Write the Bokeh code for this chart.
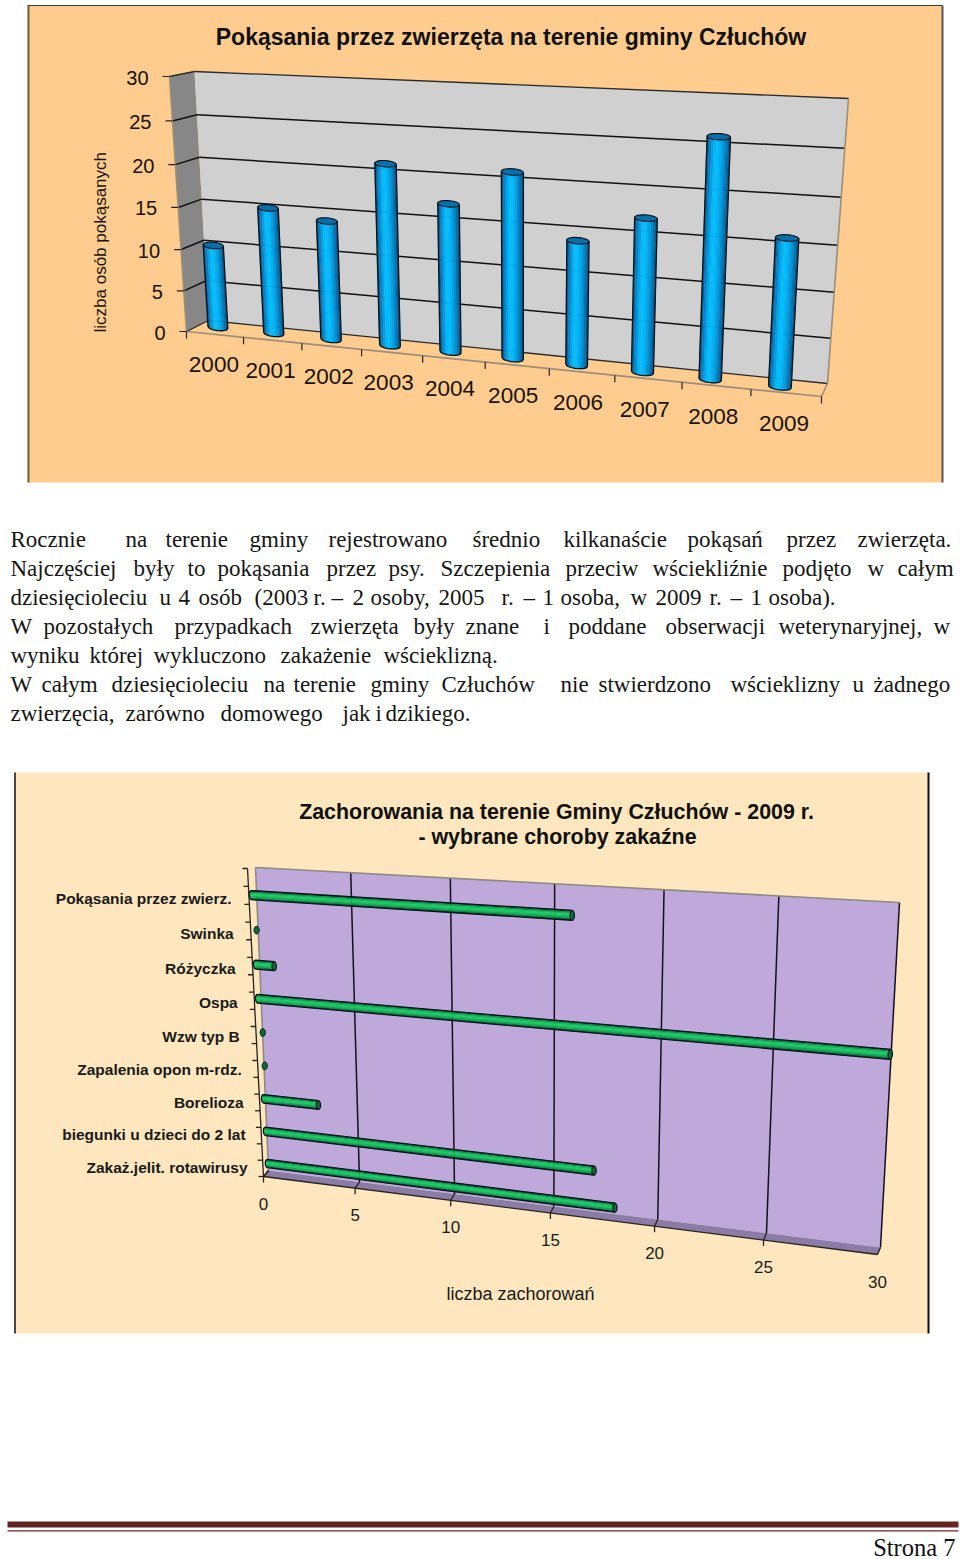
import math
import numpy as np
from bokeh.plotting import figure
from bokeh.embed import file_html
from bokeh.resources import INLINE
from bokeh.core.properties import value

# ---- data ----
years = ["2000","2001","2002","2003","2004","2005","2006","2007","2008","2009"]
bites = [10,15,14,21,17,21,14,17,26,16]
bite_ticks = [0,5,10,15,20,25,30]
title1 = "Pokąsania przez zwierzęta na terenie gminy Człuchów"
ytitle1 = "liczba osób pokąsanych"

diseases = ["Pokąsania przez zwierz.","Swinka","Różyczka","Ospa","Wzw typ B",
            "Zapalenia opon m-rdz.","Borelioza","biegunki u dzieci do 2 lat","Zakaż.jelit. rotawirusy"]
cases = [16,0,1,30,0,0,3,17,18]
case_ticks = [0,5,10,15,20,25,30]
title2a = "Zachorowania na terenie Gminy Człuchów - 2009 r."
title2b = "- wybrane choroby zakaźne"
xtitle2 = "liczba zachorowań"

para_words = [
 ["Rocznie","na","terenie","gminy","rejestrowano","średnio","kilkanaście","pokąsań","przez","zwierzęta."],
 ["Najczęściej","były","to","pokąsania","przez","psy.","Szczepienia","przeciw","wściekliźnie","podjęto","w","całym"],
 ["dziesięcioleciu","u","4","osób","(2003","r.","–","2","osoby,","2005","r.","–","1","osoba,","w","2009","r.","–","1","osoba)."],
 ["W","pozostałych","przypadkach","zwierzęta","były","znane","i","poddane","obserwacji","weterynaryjnej,","w"],
 ["wyniku","której","wykluczono","zakażenie","wścieklizną."],
 ["W","całym","dziesięcioleciu","na","terenie","gminy","Człuchów","nie","stwierdzono","wścieklizny","u","żadnego"],
 ["zwierzęcia,","zarówno","domowego","jak","i","dzikiego."],
]
para_x = [
 [10,125,165,249,328,472,563,687,786,857],
 [10,133,187,217,326,388,440,565,652,782,867,897],
 [10,159,178,198,254,313,331,352,370,438,501,523,542,560,630,655,709,730,750,768],
 [10,43,174,310,413,465,543,568,665,778,933],
 [10,89,153,280,383],
 [10,41,111,263,293,370,441,560,598,730,852,873],
 [10,125,220,342,375,385],
]
para_base = [539,568,597,626,655,684,713]
footer = "Strona 7"

SANS = value("Liberation Sans")
SERIF = value("Liberation Serif")

# ---- projection helpers ----
def quad(p00, p10, p11, p01):
    x0,y0=p00; x1,y1=p10; x2,y2=p11; x3,y3=p01
    dx1=x1-x2; dx2=x3-x2; sx=x0-x1+x2-x3
    dy1=y1-y2; dy2=y3-y2; sy=y0-y1+y2-y3
    den=dx1*dy2-dx2*dy1
    g=(sx*dy2-dx2*sy)/den; h=(dx1*sy-sx*dy1)/den
    a=x1-x0+g*x1; b=x3-x0+h*x3; d=y1-y0+g*y1; e=y3-y0+h*y3
    def f(u,w):
        q=g*u+h*w+1
        return ((a*u+b*w+x0)/q,(d*u+e*w+y0)/q)
    return f

p = figure(width=960, height=1559, x_range=(0,960), y_range=(1559,0),
           x_axis_type=None, y_axis_type=None, toolbar_location=None,
           output_backend="svg", min_border=0, outline_line_color=None,
           background_fill_color="white", border_fill_color="white")
p.grid.visible = False

def seg(list_, a, b):
    list_.append(((a[0],b[0]),(a[1],b[1])))

def draw_lines(segs, color, width):
    p.multi_line([list(s[0]) for s in segs],[list(s[1]) for s in segs],line_color=color,line_width=width)

def poly(pts, fill, line=None, lw=1, alpha=1.0):
    p.patch([q[0] for q in pts],[q[1] for q in pts],fill_color=fill,line_color=line,line_width=lw,fill_alpha=alpha)

def cylinder(am, ap, bm, bp, bulge, r, shades, cap, n=None):
    n=len(shades)
    def lerp(a,b,t): return (a[0]+(b[0]-a[0])*t,a[1]+(b[1]-a[1])*t)
    def base(s):
        q=lerp(am,ap,(s+1)/2); k=math.sqrt(max(0,1-s*s))*r
        return (q[0]+bulge[0]*k,q[1]+bulge[1]*k)
    def far(s): return lerp(bm,bp,(s+1)/2)
    xs=[];ys=[];cols=[]
    for i in range(n):
        ss=np.linspace(-1+2*i/n,-1+2*(i+1)/n,5)
        bpts=[base(s) for s in ss]
        fpts=[far(s) for s in ss[::-1]]
        pts=bpts+fpts
        xs.append([q[0] for q in pts]);ys.append([q[1] for q in pts]);cols.append(shades[i])
    p.patches(xs,ys,fill_color=cols,line_color=cols,line_width=0.4)
    ss=np.linspace(-1,1,25)
    out=[base(s) for s in ss]+[far(1),far(-1),base(-1)]
    p.line([q[0] for q in out],[q[1] for q in out],line_color="#06121c",line_width=1.3)
    c=lerp(bm,bp,.5)
    ax=(bp[0]-c[0],bp[1]-c[1])
    th=np.linspace(0,2*math.pi,40)
    ex=[c[0]+ax[0]*math.cos(t)+(-bulge[0])*r*math.sin(t) for t in th]
    ey=[c[1]+ax[1]*math.cos(t)+(-bulge[1])*r*math.sin(t) for t in th]
    p.patch(ex,ey,fill_color=cap,line_color="#06121c",line_width=1.1)

# ================= chart 1 =================
p.quad(left=27,right=942,top=482,bottom=5,fill_color="#FFCC90",line_color=None)
p.line([27,942],[5,5],line_color="#3a3a3a",line_width=1.2)
p.line([28,28],[5,482],line_color="#6b6048",line_width=2)
p.line([942,942],[5,482],line_color="#555555",line_width=2)

BACK1 = quad((208,320),(827,383),(848,98),(194,71))      # x 0..1, v 0..1
FRONT1 = quad((186,331),(821,396),(842,111),(169,76))
BARS1 = quad((190,324),(815,390),(831,102),(174.5,72))

poly([FRONT1(0,0),BACK1(0,0),BACK1(0,1),FRONT1(0,1)],"#878787")
poly([BACK1(0,0),BACK1(1,0),BACK1(1,1),BACK1(0,1)],"#D0D0D0")

g=[]
for t in bite_ticks[1:-1]:
    w=t/30
    seg(g,BACK1(0,w),BACK1(1,w)); seg(g,BACK1(0,w),FRONT1(0,w))
draw_lines(g,"#111111",1.5)
g=[]
seg(g,BACK1(0,1),BACK1(1,1)); seg(g,FRONT1(0,1),BACK1(0,1)); seg(g,BACK1(0,0),BACK1(1,0)); seg(g,FRONT1(0,0),BACK1(0,0))
draw_lines(g,"#2a2a2a",1.3)
g=[]
seg(g,BACK1(1,0),BACK1(1,1)); seg(g,FRONT1(0,0),FRONT1(1,0)); seg(g,FRONT1(1,0),BACK1(1,0)); seg(g,FRONT1(0,0),FRONT1(0,1))
draw_lines(g,"#9C8E78",1.6)
g=[]
for t in bite_ticks:
    a=FRONT1(0,t/30); seg(g,(a[0]-7,a[1]),a)
for i in range(len(years)+1):
    a=FRONT1(i/len(years),0); seg(g,a,(a[0],a[1]+7))
draw_lines(g,"#222222",1.2)

blue=["#0B5F92","#0681C4","#00A0E6","#00B8FA","#00BEFF","#00B4F6","#00A4E8","#0090D4","#0076B6","#0A5A8C"]
N=len(years)
for i,val in enumerate(bites):
    hw=(0.18-0.0022*i)/N; uc=(i+.5)/N; w=val/30
    cylinder(BARS1(uc-hw,0),BARS1(uc+hw,0),BARS1(uc-hw,w),BARS1(uc+hw,w),(0,1),3.2,blue,"#0A6FA6")

lx=[];ly=[]
for i in range(N):
    a=BARS1((i+.5)/N,0); lx.append(a[0]-4+0.9*i); ly.append(a[1]+37)
p.text(lx,ly,text=years,text_font=SANS,text_font_size="22.5px",text_align="center",text_baseline="middle",text_color="#1a1208")
lx=[];ly=[]
for t in bite_ticks:
    a=FRONT1(0,t/30); lx.append(a[0]-21); ly.append(a[1]+1)
p.text(lx,ly,text=[str(t) for t in bite_ticks],text_font=SANS,text_font_size="20px",text_align="right",text_baseline="middle",text_color="#1a1208")
p.text([510.5],[36.5],text=[title1],text_font=SANS,text_font_style="bold",text_font_size="23px",text_align="center",text_baseline="middle",text_color="#111111")
p.text([100],[332],text=[ytitle1],angle=math.pi/2,text_font=SANS,text_font_size="17px",text_align="left",text_baseline="middle",text_color="#1a1208")

# ================= paragraph =================
for words,xs,b in zip(para_words,para_x,para_base):
    p.text(xs,[b]*len(xs),text=words,text_font=SERIF,text_font_size="23px",text_align="left",text_baseline="alphabetic",text_color="#151515")

# ================= chart 2 =================
p.quad(left=14,right=928,top=1333,bottom=772,fill_color="#FEE7BE",line_color=None)
p.line([14.5,14.5],[772,1333],line_color="#111111",line_width=1.5)
p.line([928,928],[772,1333],line_color="#111111",line_width=2)

BACK2 = quad((255,867),(899,902),(880,1247),(268,1170))    # v 0..1, t 0..1
FRONT2 = quad((247,868),(896,905),(877,1254),(263,1176))
BARS2 = quad((250,877),(897,915),(879,1259),(268,1179))

poly([BACK2(0,0),BACK2(1,0),BACK2(1,1),BACK2(0,1)],"#BFA8DA")
poly([BACK2(0,1),BACK2(1,1),FRONT2(1,1),FRONT2(0,1)],"#8A7CA6")
g=[]
for t in case_ticks[1:-1]:
    seg(g,BACK2(t/30,0),BACK2(t/30,1))
seg(g,BACK2(1,0),BACK2(1,1))
draw_lines(g,"#14101e",1.5)
g=[]
seg(g,BACK2(0,0),BACK2(1,0)); seg(g,BACK2(0,0),BACK2(0,1))
draw_lines(g,"#8d8a84",1.6)
g=[]
seg(g,FRONT2(0,0),FRONT2(0,1)); seg(g,FRONT2(0,1),FRONT2(1,1)); seg(g,BACK2(0,1),FRONT2(0,1)); seg(g,BACK2(1,1),FRONT2(1,1))
for k in range(0,19):
    a=FRONT2(0,k/18); seg(g,(a[0]-5,a[1]),a)
for t in case_ticks[:-1]:
    a=FRONT2(t/30,1); seg(g,BACK2(t/30,1),a); seg(g,a,(a[0],a[1]+6))
draw_lines(g,"#26221e",1.3)

green=["#0A4E28","#0C9048","#12BA58","#18D066","#14C85E","#10B454","#0C9648","#0A5A2E"]
M=len(diseases)
for i,val in enumerate(cases):
    tc=(i+.5)/M; hw=0.13/M; w=val/30
    if val==0:
        c=BARS2(0,tc); th=np.linspace(0,2*math.pi,30)
        p.patch(c[0]+3+2.6*np.cos(th),c[1]+3.9*np.sin(th),fill_color="#0B6B37",line_color="#06121c",line_width=1)
    else:
        cylinder(BARS2(0,tc-hw),BARS2(0,tc+hw),BARS2(w,tc-hw),BARS2(w,tc+hw),(-1,0),2.2,green,"#0B6B37")

lx=[];ly=[]
for i in range(M):
    a=BARS2(0,(i+.5)/M); lx.append(a[0]-20); ly.append(a[1]+3.5)
p.text(lx,ly,text=diseases,text_font=SANS,text_font_style="bold",text_font_size="15.5px",text_align="right",text_baseline="middle",text_color="#1a1a1a")
lx=[];ly=[]
for t in case_ticks:
    a=FRONT2(t/30,1); lx.append(a[0]); ly.append(a[1]+27)
p.text(lx,ly,text=[str(t) for t in case_ticks],text_font=SANS,text_font_size="17px",text_align="center",text_baseline="middle",text_color="#1a1a1a")
p.text([556,557],[811.5,836.5],text=[title2a,title2b],text_font=SANS,text_font_style="bold",text_font_size="21.4px",text_align="center",text_baseline="middle",text_color="#111111")
p.text([520],[1293],text=[xtitle2],text_font=SANS,text_font_size="18px",text_align="center",text_baseline="middle",text_color="#1a1a1a")

# ================= footer =================
p.quad(left=7,right=958,top=1527,bottom=1521,fill_color="#632423",line_color=None)
p.quad(left=7,right=958,top=1531,bottom=1529.7,fill_color="#632423",line_color=None)
p.text([955],[1547],text=[footer],text_font=SERIF,text_font_size="24.5px",text_align="right",text_baseline="middle",text_color="#111111")

open("out.html","w").write(file_html(p, INLINE))
